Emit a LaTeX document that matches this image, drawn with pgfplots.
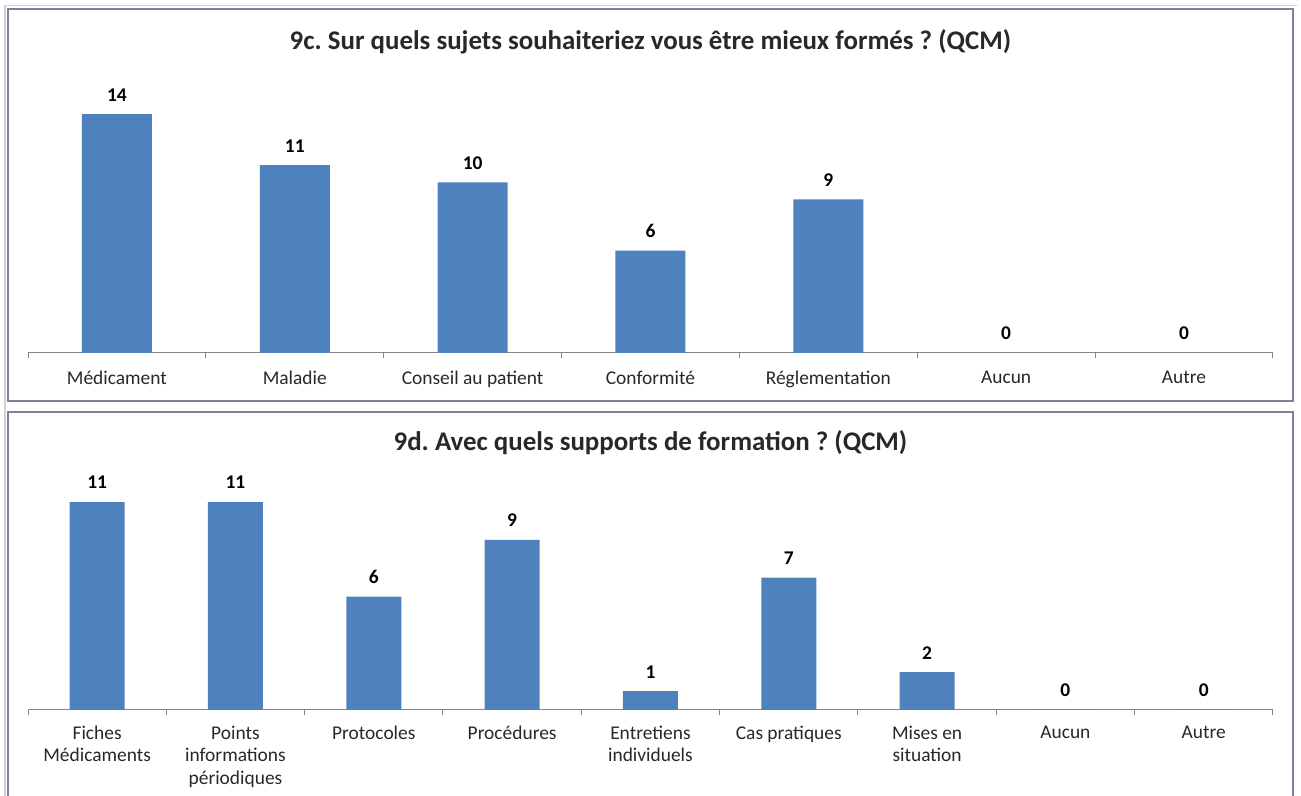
\documentclass[border=0pt]{standalone}
\usepackage{pgfplots}
\pgfplotsset{compat=1.18}
\usepackage{fontspec}
\setmainfont{Carlito}
\frenchspacing
\definecolor{barblue}{HTML}{4F81BD}
\definecolor{framec}{RGB}{125,128,150}
\definecolor{axisgray}{RGB}{134,134,134}
\definecolor{txt}{RGB}{40,40,40}
\begin{document}
\begin{tikzpicture}
\useasboundingbox (0bp,0bp) rectangle (1301bp,796bp);
\fill[white] (0bp,0bp) rectangle (1301bp,796bp);
% light outer lines
\draw[black!18, line width=1.2bp] (5bp,0bp) -- (5bp,790.5bp) -- (1297bp,790.5bp);
% frames
\draw[framec, line width=2bp] (8bp,395bp) rectangle (1293bp,787bp);
\draw[framec, line width=2bp] (8bp,-5bp) rectangle (1293bp,384bp);
% titles
\node[text=txt, font=\bfseries\fontsize{27}{31}\selectfont] at (650.5bp,754bp) {9c. Sur quels sujets souhaiteriez vous être mieux formés ? (QCM)};
\node[text=txt, font=\bfseries\fontsize{27}{31}\selectfont] at (650.5bp,353bp) {9d. Avec quels supports de formation ? (QCM)};
\pgfplotsset{
  mystyle/.style={
    scale only axis,
    anchor=south west,
    ybar, bar shift=0pt,
    ymin=0,
    axis x line*=bottom,
    axis y line=none,
    x axis line style={axisgray, line width=1bp, -},
    xtick=data,
    major tick length=0pt,
    minor tick length=5bp,
    tick align=outside,
    minor tick style={axisgray, line width=1bp},
    xticklabel style={text=txt, font=\fontsize{19.5}{22.5}\selectfont, align=center, anchor=north},
    nodes near coords,
    every node near coord/.append style={font=\bfseries\fontsize{19.5}{19.5}\selectfont, text=black, yshift=9.5bp},
    /pgf/number format/assume math mode=true,
    clip=false,
  }
}
\begin{axis}[mystyle,
  at={(28bp,443bp)}, width=1245bp, height=273.1bp,
  xmin=-0.5, xmax=6.5, ymax=16,
  bar width=70bp,
  minor xtick={-0.5,0.5,...,6.5},
  xticklabel style={yshift=-14.5bp},
  xticklabels={Médicament, Maladie, Conseil au patient, Conformité, Réglementation, Aucun, Autre},
]
\addplot[fill=barblue, draw=none] coordinates {(0,14) (1,11) (2,10) (3,6) (4,9) (5,0) (6,0)};
\end{axis}
\begin{axis}[mystyle,
  at={(28bp,86bp)}, width=1245bp, height=226.9bp,
  xmin=-0.5, xmax=8.5, ymax=12,
  bar width=55bp,
  minor xtick={-0.5,0.5,...,8.5},
  xticklabel style={yshift=-12.5bp},
  xticklabels={Fiches\\Médicaments, Points\\informations\\périodiques, Protocoles, Procédures, Entretiens\\individuels, Cas pratiques, Mises en\\situation, Aucun, Autre},
]
\addplot[fill=barblue, draw=none] coordinates {(0,11) (1,11) (2,6) (3,9) (4,1) (5,7) (6,2) (7,0) (8,0)};
\end{axis}
\end{tikzpicture}
\end{document}
